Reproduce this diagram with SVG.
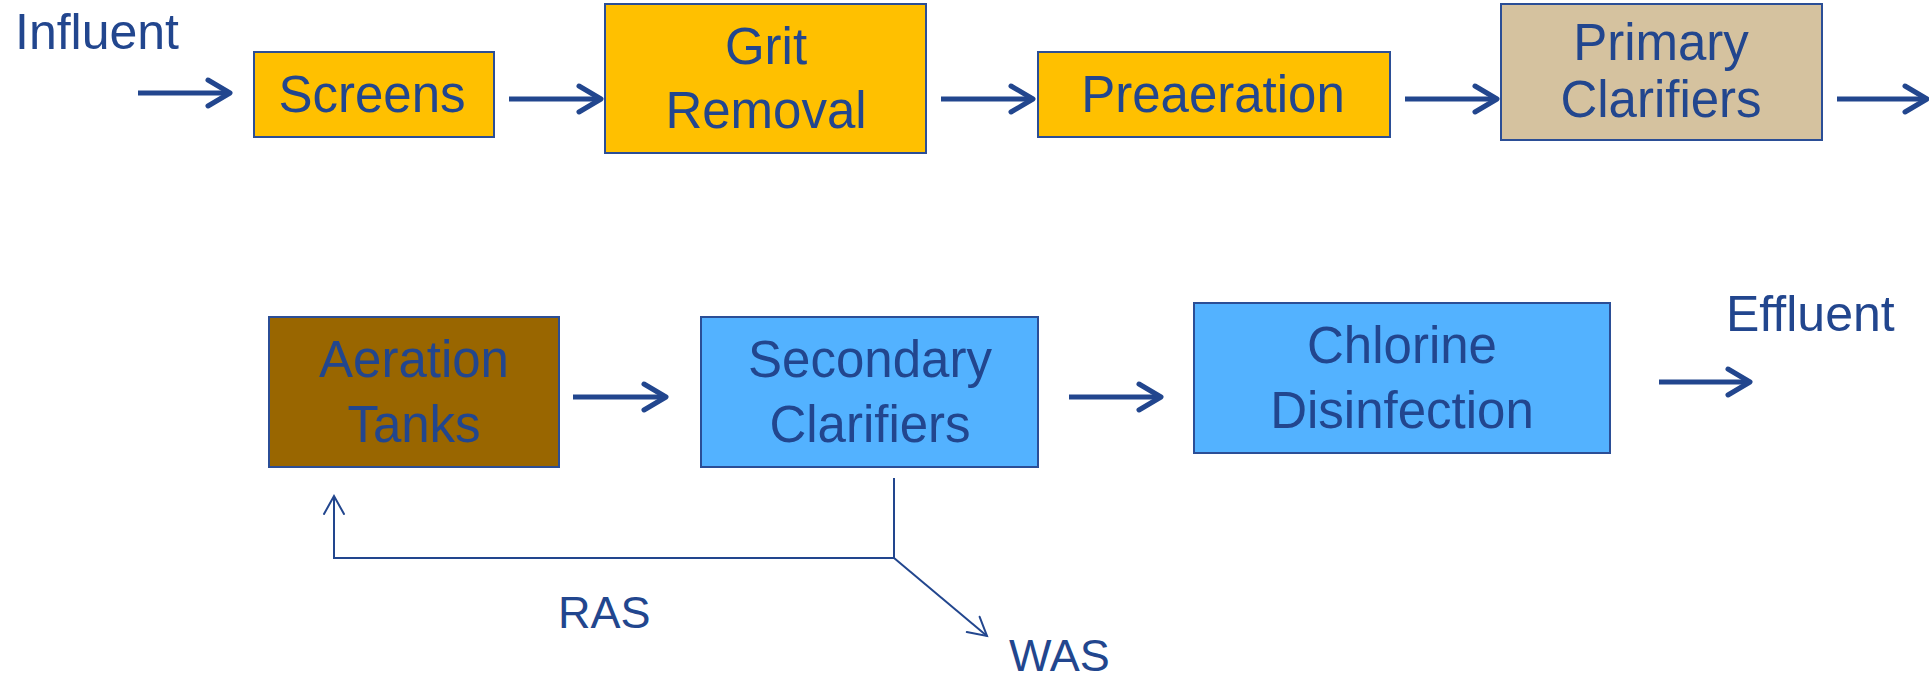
<svg xmlns="http://www.w3.org/2000/svg" width="1929" height="679" viewBox="0 0 1929 679">
<style>
.box{stroke:#2B4E96;stroke-width:2}
.lbl{font-family:"Liberation Sans",Arial,sans-serif;font-size:51px;fill:#22468E;text-anchor:middle}
.ext{font-family:"Liberation Sans",Arial,sans-serif;font-size:50px;fill:#22468E}
.small{font-family:"Liberation Sans",Arial,sans-serif;font-size:45px;fill:#22468E}
.thick{stroke:#22468E;stroke-width:5;fill:none}
.thin{stroke:#22468E;stroke-width:2;fill:none}
</style>
<defs>
<marker id="chev" markerUnits="userSpaceOnUse" viewBox="-30 -20 36 40" refX="0" refY="0" markerWidth="36" markerHeight="40" orient="auto" overflow="visible">
<path d="M-22,-13 L0,0 L-22,13" fill="none" stroke="#22468E" stroke-width="5" stroke-linejoin="round" stroke-linecap="round"/>
</marker>
<marker id="open" markerUnits="userSpaceOnUse" viewBox="-25 -15 30 30" refX="0" refY="0" markerWidth="30" markerHeight="30" orient="auto" overflow="visible">
<path d="M-18,-10 L0,0 L-18,10" fill="none" stroke="#22468E" stroke-width="2" stroke-linecap="round"/>
</marker>
</defs>
<rect width="1929" height="679" fill="#FFFFFF"/>

<g id="influent"><text class="ext" x="15" y="49">Influent</text></g>
<g id="effluent"><text class="ext" x="1726" y="331">Effluent</text></g>

<g id="screens">
<rect class="box" x="254" y="52" width="240" height="85" fill="#FFC000"/>
<text class="lbl" x="372" y="112">Screens</text>
</g>
<g id="grit">
<rect class="box" x="605" y="4" width="321" height="149" fill="#FFC000"/>
<text class="lbl" x="766" y="64">Grit</text>
<text class="lbl" x="766" y="128">Removal</text>
</g>
<g id="preaeration">
<rect class="box" x="1038" y="52" width="352" height="85" fill="#FFC000"/>
<text class="lbl" x="1213" y="112">Preaeration</text>
</g>
<g id="primary">
<rect class="box" x="1501" y="4" width="321" height="136" fill="#D5C29F"/>
<text class="lbl" x="1661" y="60">Primary</text>
<text class="lbl" x="1661" y="117">Clarifiers</text>
</g>
<g id="aeration">
<rect class="box" x="269" y="317" width="290" height="150" fill="#996600"/>
<text class="lbl" x="414" y="377">Aeration</text>
<text class="lbl" x="414" y="442">Tanks</text>
</g>
<g id="secondary">
<rect class="box" x="701" y="317" width="337" height="150" fill="#53B2FF"/>
<text class="lbl" x="870" y="377">Secondary</text>
<text class="lbl" x="870" y="442">Clarifiers</text>
</g>
<g id="chlorine">
<rect class="box" x="1194" y="303" width="416" height="150" fill="#53B2FF"/>
<text class="lbl" x="1402" y="363">Chlorine</text>
<text class="lbl" x="1402" y="428">Disinfection</text>
</g>
<g id="ras"><text class="small" x="558" y="628">RAS</text></g>
<g id="was"><text class="small" x="1009" y="671">WAS</text></g>

<g id="connectors">
<line class="thick" x1="138" y1="93" x2="230" y2="93" marker-end="url(#chev)"/>
<line class="thick" x1="509" y1="99" x2="601" y2="99" marker-end="url(#chev)"/>
<line class="thick" x1="941" y1="99" x2="1033" y2="99" marker-end="url(#chev)"/>
<line class="thick" x1="1405" y1="99" x2="1497" y2="99" marker-end="url(#chev)"/>
<line class="thick" x1="1837" y1="99" x2="1927" y2="99" marker-end="url(#chev)"/>
<line class="thick" x1="573" y1="397" x2="666" y2="397" marker-end="url(#chev)"/>
<line class="thick" x1="1069" y1="397" x2="1161" y2="397" marker-end="url(#chev)"/>
<line class="thick" x1="1659" y1="382" x2="1750" y2="382" marker-end="url(#chev)"/>
<polyline class="thin" points="894,478 894,558 334,558 334,496" marker-end="url(#open)"/>
<line class="thin" x1="894" y1="558" x2="987" y2="636" marker-end="url(#open)"/>
</g>
</svg>
